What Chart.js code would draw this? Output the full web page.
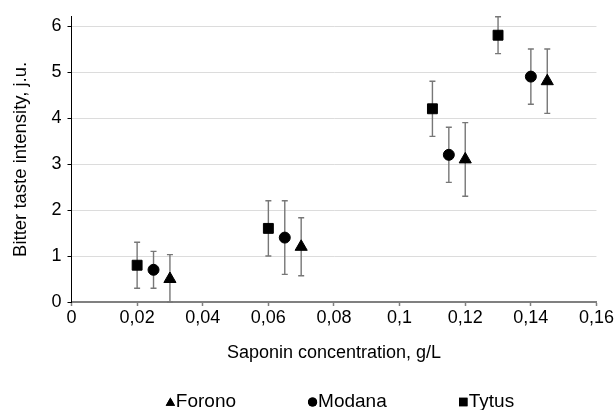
<!DOCTYPE html>
<html>
<head>
<meta charset="utf-8">
<script src="https://cdn.jsdelivr.net/npm/chart.js@4"></script>
<style>
  html, body { margin: 0; padding: 0; background: #fff; }
  #wrap { width: 615px; height: 410px; }
</style>
</head>
<body>
<div id="wrap"><canvas id="grafico" width="615" height="410"></canvas></div>
<script>
// -------- DADOS --------
const xTytus = [0.02, 0.06, 0.11, 0.13];
const yTytus = [0.8, 1.6, 4.2, 5.8];
const errTytus = [0.5, 0.6, 0.6, 0.4];

const xModana = [0.025, 0.065, 0.115, 0.14];
const yModana = [0.7, 1.4, 3.2, 4.9];
const errModana = [0.4, 0.8, 0.6, 0.6];

const xForono = [0.03, 0.07, 0.12, 0.145];
const yForono = [0.5, 1.2, 3.1, 4.8];
const errForono = [0.53, 0.63, 0.8, 0.7];

const xTicks = [0, 0.02, 0.04, 0.06, 0.08, 0.1, 0.12, 0.14, 0.16];
const yTicks = [0, 1, 2, 3, 4, 5, 6];

function pontos(xs, ys) {
  return xs.map((x, i) => ({ x: x, y: ys[i] }));
}

const fonte = "'Liberation Sans', Arial, sans-serif";

// -------- BARRAS DE ERRO --------
const barrasErro = {
  id: "barrasErro",
  beforeDatasetsDraw(chart) {
    const c = chart.ctx;
    const sx = chart.scales.x;
    const sy = chart.scales.y;
    c.save();
    c.strokeStyle = "#777";
    c.lineWidth = 1.4;
    chart.data.datasets.forEach((ds) => {
      ds.data.forEach((p, i) => {
        const e = ds.erro[i];
        const px = sx.getPixelForValue(p.x);
        const lo = sy.getPixelForValue(Math.max(0, p.y - e));
        const hi = sy.getPixelForValue(p.y + e);
        c.beginPath();
        c.moveTo(px, lo); c.lineTo(px, hi);
        c.moveTo(px - 3, lo); c.lineTo(px + 3, lo);
        c.moveTo(px - 3, hi); c.lineTo(px + 3, hi);
        c.stroke();
      });
    });
    c.restore();
  }
};

// -------- LEGENDA (marcador colado ao texto) --------
const tamanhoMarcador = { triangle: 5.4, circle: 4.6, rect: 6 };

const legendaEmbaixo = {
  id: "legendaEmbaixo",
  afterDraw(chart) {
    const c = chart.ctx;
    const yMeio = 402;
    const espaco = 72;
    c.save();
    c.font = "19px " + fonte;
    c.textBaseline = "middle";
    c.fillStyle = "#000";
    const itens = chart.data.datasets.map((ds) => ({
      ds: ds,
      larg: 10 + c.measureText(ds.label).width
    }));
    const total = itens.reduce((s, it) => s + it.larg, 0) + espaco * (itens.length - 1);
    let x = 340 - total / 2;
    itens.forEach((it) => {
      Chart.helpers.drawPoint(c, {
        pointStyle: it.ds.pointStyle,
        radius: tamanhoMarcador[it.ds.pointStyle],
        rotation: 0,
        borderWidth: 0
      }, x + 4.5, yMeio + (it.ds.pointStyle === "triangle" ? 1 : 0));
      c.fillStyle = "#000";
      c.fill();
      c.fillText(it.ds.label, x + 10, yMeio);
      x += it.larg + espaco;
    });
    c.restore();
  }
};

const ctx = document.getElementById("grafico").getContext("2d");
new Chart(ctx, {
  type: "scatter",
  data: {
    datasets: [
      { label: "Forono", data: pontos(xForono, yForono), erro: errForono,
        pointStyle: "triangle", pointRadius: 7, backgroundColor: "#000", borderColor: "#000" },
      { label: "Modana", data: pontos(xModana, yModana), erro: errModana,
        pointStyle: "circle", pointRadius: 5.5, backgroundColor: "#000", borderColor: "#000" },
      { label: "Tytus", data: pontos(xTytus, yTytus), erro: errTytus,
        pointStyle: "rect", pointRadius: 7, backgroundColor: "#000", borderColor: "#000" }
    ]
  },
  options: {
    responsive: false,
    animation: false,
    layout: { padding: { left: 6, right: 17, top: 16, bottom: 42 } },
    plugins: {
      tooltip: { enabled: false },
      legend: { display: false }
    },
    scales: {
      x: {
        type: "linear",
        min: 0,
        max: 0.16,
        afterBuildTicks: (axis) => { axis.ticks = xTicks.map((v) => ({ value: v })); },
        afterFit: (axis) => { axis.height = 66; },
        ticks: {
          color: "#000",
          padding: 1,
          maxRotation: 0,
          font: { family: fonte, size: 18 },
          callback: (v) => Number(v.toFixed(2)).toString().replace(".", ",")
        },
        grid: { drawOnChartArea: false, drawTicks: true, tickLength: 4, tickColor: "#808080", tickWidth: 1.5 },
        border: { color: "#808080", width: 2 },
        title: { display: true, text: "Saponin concentration, g/L", color: "#000",
          font: { family: fonte, size: 18 } }
      },
      y: {
        min: 0,
        max: 6.2,
        afterBuildTicks: (axis) => { axis.ticks = yTicks.map((v) => ({ value: v })); },
        afterFit: (axis) => { axis.width = 65.5; },
        ticks: { color: "#000", padding: 6, font: { family: fonte, size: 18 } },
        grid: { color: "#dcdcdc", tickLength: 4, tickColor: "#000" },
        border: { color: "#000", width: 1 },
        title: { display: true, text: "Bitter taste intensity, j.u.", color: "#000",
          font: { family: fonte, size: 18.5 } }
      }
    }
  },
  plugins: [barrasErro, legendaEmbaixo]
});
</script>
</body>
</html>
